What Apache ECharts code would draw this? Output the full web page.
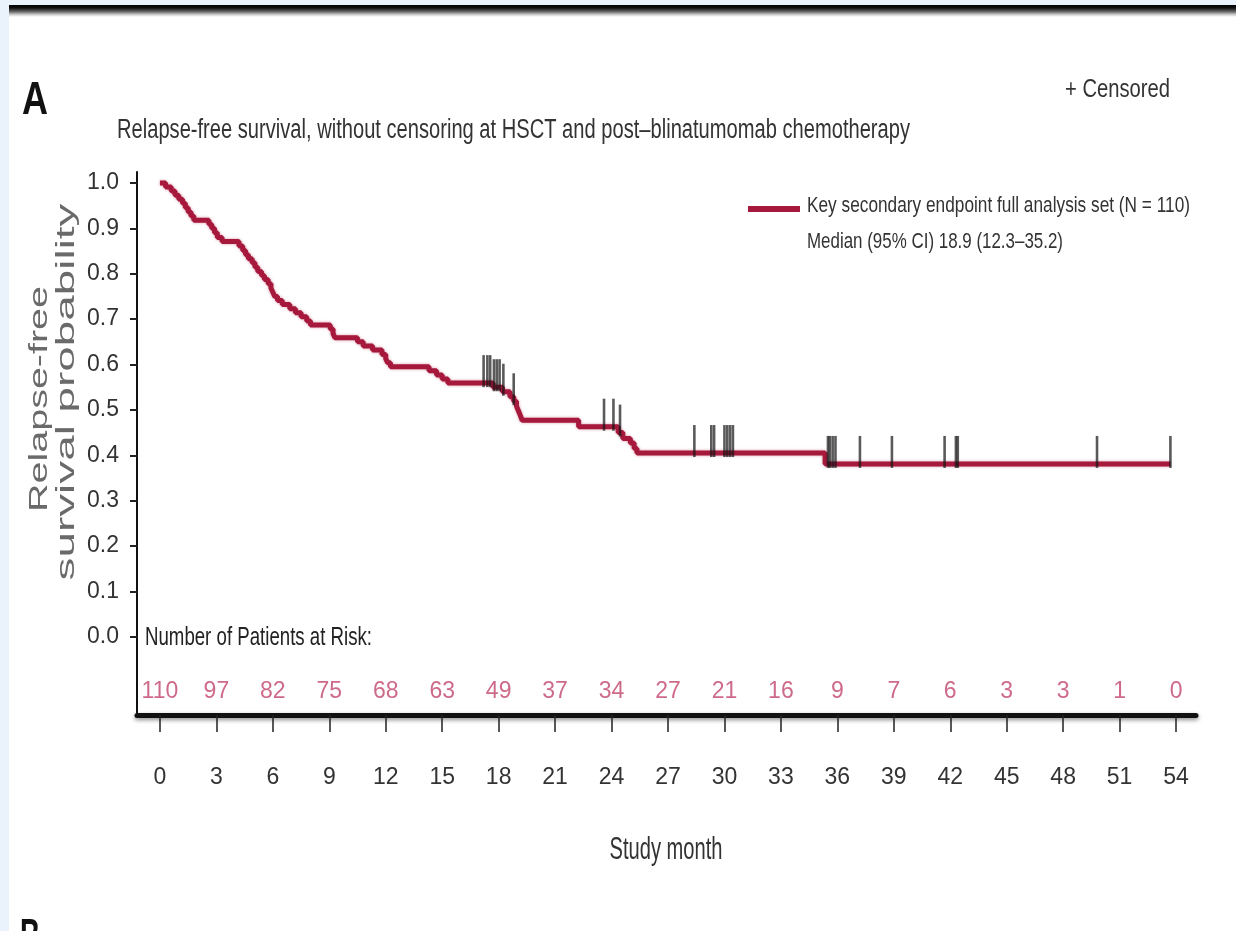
<!DOCTYPE html>
<html>
<head>
<meta charset="utf-8">
<title>Relapse-free survival</title>
<script src="https://cdn.jsdelivr.net/npm/echarts@6/dist/echarts.min.js"></script>
<style>
  html, body { margin: 0; padding: 0; width: 1236px; height: 931px; overflow: hidden; background: #eaf2fb; }
  #panel { position: absolute; left: 9px; top: 5px; right: 0; bottom: 0; background: #fff; }
  #rule { position: absolute; left: 9px; top: 5px; right: 0; height: 12px;
          background: linear-gradient(to bottom, #000 0%, #111 25%, #666 55%, #ccc 80%, #fff 100%); }
  #chart { position: absolute; left: 0; top: 0; width: 1236px; height: 931px; }
</style>
</head>
<body>
<div id="panel"></div>
<div id="rule"></div>
<div id="chart"></div>
<script>
// Kaplan–Meier step points: month of each drop and the survival level after it
const survMonths = [0, 0.3, 0.6, 0.8, 1.0, 1.2, 1.35, 1.5, 1.65, 1.8,
  2.6, 2.75, 2.9, 3.05, 3.3,
  4.2, 4.4, 4.55, 4.7, 4.9, 5.05, 5.2, 5.4, 5.55, 5.75, 5.9, 6.0, 6.1, 6.25, 6.5,
  6.9, 7.2, 7.5, 7.8, 8.0,
  9.05, 9.2, 9.3,
  10.5, 10.8, 11.3, 11.8, 12.0, 12.1, 12.25,
  14.3, 14.7, 15.0, 15.3,
  17.7, 18.2, 18.6, 18.8, 18.95, 19.05, 19.15, 19.25,
  22.25,
  24.35, 24.6, 25.0, 25.2, 25.35,
  35.35, 53.7];
const survProb = [1.0, 0.991, 0.982, 0.973, 0.964, 0.955, 0.945, 0.936, 0.927, 0.918,
  0.909, 0.9, 0.89, 0.88, 0.871,
  0.861, 0.851, 0.842, 0.833, 0.824, 0.814, 0.805, 0.796, 0.787, 0.778, 0.768, 0.759, 0.75, 0.741, 0.732,
  0.723, 0.714, 0.705, 0.696, 0.687,
  0.678, 0.668, 0.659,
  0.65, 0.641, 0.632, 0.622, 0.613, 0.604, 0.595,
  0.586, 0.577, 0.568, 0.559,
  0.55, 0.54, 0.529, 0.519, 0.508, 0.498, 0.488, 0.477,
  0.463,
  0.45, 0.437, 0.427, 0.415, 0.405,
  0.381, 0.381];

// Censored observations
const censorMonths = [17.2, 17.4, 17.55, 17.75, 17.9, 18.05, 18.25, 18.8,
  23.6, 24.1, 24.45,
  28.4, 29.3, 29.45, 30.0, 30.15, 30.3, 30.45,
  35.5, 35.6, 35.75, 35.9, 37.2, 38.9, 41.7, 42.3, 42.4, 49.8, 53.7];
const censorProb = [0.559, 0.559, 0.559, 0.55, 0.55, 0.55, 0.54, 0.519,
  0.463, 0.463, 0.45,
  0.405, 0.405, 0.405, 0.405, 0.405, 0.405, 0.405,
  0.381, 0.381, 0.381, 0.381, 0.381, 0.381, 0.381, 0.381, 0.381, 0.381, 0.381];

// Axis ticks and the patients-at-risk table
const monthTicks = [0, 3, 6, 9, 12, 15, 18, 21, 24, 27, 30, 33, 36, 39, 42, 45, 48, 51, 54];
const atRisk = [110, 97, 82, 75, 68, 63, 49, 37, 34, 27, 21, 16, 9, 7, 6, 3, 3, 1, 0];
const probTicks = [0, 0.1, 0.2, 0.3, 0.4, 0.5, 0.6, 0.7, 0.8, 0.9, 1.0];

const seriesName = 'Key secondary endpoint full analysis set (N = 110)';
const medianText = 'Median (95% CI) 18.9 (12.3\u201335.2)';

const CRIMSON = '#a6183c';
const RISK_RED = '#c2456b';
const SANS = "'Liberation Sans', Arial, sans-serif";
const riskRowLevel = -0.121;

// width-fitting helper for the condensed captions
const measureCtx = document.createElement('canvas').getContext('2d');
function fitScale(text, font, width) {
  measureCtx.font = font;
  return width / measureCtx.measureText(text).width;
}
function caption(text, x, y, font, width, fill, align) {
  const a = align || 'left';
  return {
    type: 'text', x: x, y: y, silent: true,
    scaleX: fitScale(text, font, width), scaleY: 1,
    style: { text: text, font: font, fill: fill,
             textAlign: a, align: a,
             textVerticalAlign: 'middle', verticalAlign: 'middle' }
  };
}
function verticalCaption(text, cx, cy, font, length, fill) {
  return {
    type: 'text', x: cx, y: cy, silent: true, rotation: Math.PI / 2,
    scaleX: fitScale(text, font, length), scaleY: 1,
    style: { text: text, font: font, fill: fill,
             textAlign: 'center', align: 'center',
             textVerticalAlign: 'middle', verticalAlign: 'middle' }
  };
}

const curveData = survMonths.map((m, i) => [m, survProb[i]]);
const censorData = censorMonths.map((m, i) => [m, censorProb[i]]);
const riskData = monthTicks.map(m => [m, riskRowLevel]);

const chart = echarts.init(document.getElementById('chart'), null, { renderer: 'canvas' });

const option = {
  animation: false,
  backgroundColor: 'transparent',
  textStyle: { fontFamily: SANS },
  grid: { left: 137, top: 172, width: 1059, height: 543, containLabel: false },
  legend: {
    data: [seriesName],
    left: 743, top: 201,
    icon: 'rect', itemWidth: 52, itemHeight: 6,
    selectedMode: false,
    formatter: () => '',
    textStyle: { fontSize: 1 }
  },
  xAxis: {
    type: 'value', min: -1.22, max: 55.06,
    axisLine: { onZero: false, lineStyle: { color: '#111', width: 5,
      shadowColor: 'rgba(0,0,0,0.45)', shadowBlur: 4, shadowOffsetY: 2 } },
    axisTick: { customValues: monthTicks, length: 17, lineStyle: { color: '#222', width: 1.5 } },
    axisLabel: { customValues: monthTicks, margin: 51, fontSize: 23, color: '#333', fontFamily: SANS },
    splitLine: { show: false }
  },
  yAxis: {
    type: 'value', min: -0.172, max: 1.024,
    axisLine: { show: true, onZero: false, lineStyle: { color: '#111', width: 2 } },
    axisTick: { show: true, customValues: probTicks, length: 7, lineStyle: { color: '#222', width: 2 } },
    axisLabel: { customValues: probTicks, formatter: v => v.toFixed(1), margin: 18,
                 fontSize: 23, color: '#333', fontFamily: SANS },
    splitLine: { show: false }
  },
  graphic: [
    caption('A', 22, 101, 'bold 46px ' + SANS, 26, '#111'),
    caption('+ Censored', 1065, 90, '26px ' + SANS, 105, '#333'),
    caption('Relapse-free survival, without censoring at HSCT and post\u2013blinatumomab chemotherapy',
            117, 131, '27px ' + SANS, 793, '#333'),
    caption(seriesName, 807, 206, '22px ' + SANS, 383, '#333'),
    caption(medianText, 807, 242, '22px ' + SANS, 256, '#333'),
    caption('Number of Patients at Risk:', 145, 638, '25px ' + SANS, 227, '#222'),
    caption('Study month', 666, 850, '31px ' + SANS, 113, '#333', 'center'),
    verticalCaption('Relapse-free', 40, 399, '25px ' + SANS, 226, '#6a6a6a'),
    verticalCaption('survival probability', 67, 392, '25px ' + SANS, 377, '#6a6a6a'),
    caption('B', 20, 938, 'bold 46px ' + SANS, 20, '#111')
  ],
  series: [
    {
      name: seriesName,
      type: 'line',
      step: 'end',
      data: curveData,
      showSymbol: false,
      symbol: 'none',
      z: 3,
      itemStyle: { color: CRIMSON },
      lineStyle: { color: CRIMSON, width: 5, shadowColor: 'rgba(166,24,60,0.45)', shadowBlur: 3 }
    },
    {
      name: 'Censored',
      type: 'scatter',
      data: censorData,
      symbol: 'rect',
      symbolSize: [2.6, 32],
      symbolOffset: [0, -12],
      z: 4,
      silent: true,
      itemStyle: { color: 'rgba(20,20,20,0.88)' }
    },
    {
      name: 'Number of Patients at Risk',
      type: 'scatter',
      data: riskData,
      symbolSize: 0,
      silent: true,
      label: {
        show: true, position: 'inside',
        formatter: p => String(atRisk[p.dataIndex]),
        fontFamily: SANS, fontSize: 23, color: RISK_RED
      }
    }
  ]
};
chart.setOption(option);
</script>
</body>
</html>
